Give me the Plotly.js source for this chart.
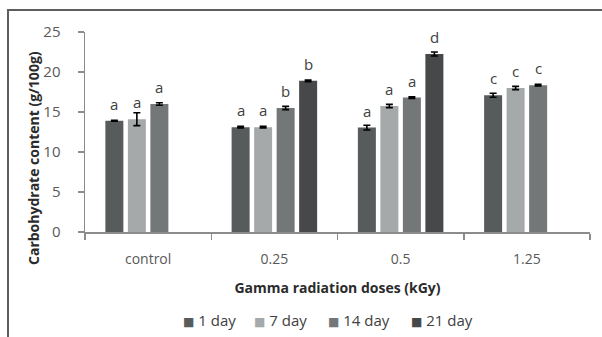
<!DOCTYPE html>
<html>
<head>
<meta charset="utf-8">
<script src="https://cdn.plot.ly/plotly-3.0.1.min.js"></script>
<style>
  html, body { margin: 0; padding: 0; background: #fff; overflow: hidden; }
  #wrap { position: relative; width: 602px; height: 337px; }
  #chart { position: absolute; left: 0; top: 0; width: 602px; height: 337px; }
  #frame { position: absolute; left: 7px; top: 9px; width: 700px; height: 400px;
           border-left: 2px solid #5e5e5e; border-top: 2px solid #5e5e5e; pointer-events: none; }
</style>
</head>
<body>
<div id="wrap">
  <div id="chart"></div>
  <div id="frame"></div>
</div>
<script>
// Gamma radiation doses (kGy) on the x axis
const doses = ['control', '0.25', '0.5', '1.25'];
// Storage periods
const seriesNames = ['1 day', '7 day', '14 day', '21 day'];
const seriesColors = ['#575b5c', '#a6a9a9', '#737778', '#46484a'];

// Carbohydrate content (g/100g); null = not measured
const day1  = [13.9, 13.1, 13.05, 17.1];
const day7  = [14.1, 13.1, 15.75, 18.0];
const day14 = [16.0, 15.5, 16.8, 18.35];
const day21 = [null, 18.9, 22.25, null];

// Standard errors
const err1  = [0.05, 0.1, 0.3, 0.25];
const err7  = [0.8, 0.1, 0.2, 0.2];
const err14 = [0.15, 0.2, 0.1, 0.1];
const err21 = [0, 0.1, 0.25, 0];

// Significance letters
const let1  = ['a', 'a', 'a', 'c'];
const let7  = ['a', 'a', 'a', 'c'];
const let14 = ['a', 'b', 'a', 'c'];
const let21 = ['', 'b', 'd', ''];

const values = [day1, day7, day14, day21];
const errors = [err1, err7, err14, err21];
const letters = [let1, let7, let14, let21];

const font = 'Open Sans, DejaVu Sans, sans-serif';
const bargap = 0.287;
const groupgap = 0.2;

const traces = values.map((v, s) => ({
  type: 'bar',
  name: seriesNames[s],
  x: doses,
  y: v,
  marker: { color: seriesColors[s], line: { width: 0 } },
  error_y: { type: 'data', array: errors[s], visible: true, color: '#000', thickness: 1.6, width: 3.5 },
  showlegend: false,
  hoverinfo: 'skip'
}));

// Letters above each bar, centred on the bar's slot within its group
const slot = (1 - bargap) / values.length;
const annotations = [];
values.forEach((v, s) => {
  v.forEach((val, i) => {
    if (val === null || !letters[s][i]) return;
    annotations.push({
      x: i + (s - (values.length - 1) / 2) * slot,
      y: val, xref: 'x', yref: 'y',
      text: letters[s][i], showarrow: false,
      yshift: 17, yanchor: 'middle',
      font: { family: font, size: 15, color: '#404040' }
    });
  });
});

// Vertical axis title, centred a little below the middle of the plot
annotations.push({
  xref: 'paper', yref: 'paper',
  x: -0.103, y: 0.37, xanchor: 'center', yanchor: 'middle',
  text: '<b>Carbohydrate content (g/100g)</b>', textangle: -90, showarrow: false,
  font: { family: font, size: 14, color: '#2b2b2b' }
});

// Compact legend row under the axis title: small square + label per series
const legendX = [0.19, 0.331, 0.477, 0.641];
seriesNames.forEach((name, s) => {
  annotations.push({
    xref: 'paper', yref: 'paper',
    x: legendX[s], y: -0.442, xanchor: 'left', yanchor: 'middle',
    text: '<span style="color:' + seriesColors[s] + ';font-family:DejaVu Sans;font-size:12px">■</span> ' + name,
    showarrow: false,
    font: { family: font, size: 15, color: '#404040' }
  });
});

const layout = {
  width: 602, height: 337,
  margin: { l: 85, r: 12, t: 32, b: 105, autoexpand: false },
  paper_bgcolor: '#fff', plot_bgcolor: '#fff',
  font: { family: font, size: 14, color: '#595959' },
  barmode: 'group', bargap: bargap, bargroupgap: groupgap,
  showlegend: false,
  xaxis: {
    type: 'category', automargin: false,
    showline: true, linecolor: '#8c8c8c', linewidth: 1.5,
    ticks: 'outside', tickson: 'boundaries', ticklen: 6, tickcolor: '#8c8c8c', tickwidth: 1.5,
    tickfont: { family: font, size: 14, color: '#595959' },
    ticklabelstandoff: 14,
    title: { text: '<b>Gamma radiation doses (kGy)</b>', standoff: 16,
             font: { family: font, size: 14, color: '#2b2b2b' } },
    showgrid: false, zeroline: false, fixedrange: true
  },
  yaxis: {
    range: [0, 25], dtick: 5, tick0: 0, automargin: false,
    showline: true, linecolor: '#8c8c8c', linewidth: 1.5,
    ticks: 'outside', ticklen: 6, tickcolor: '#8c8c8c', tickwidth: 1.5,
    tickfont: { family: font, size: 15, color: '#595959' },
    ticklabelstandoff: 14,
    showgrid: false, zeroline: false, fixedrange: true
  },
  annotations: annotations
};

Plotly.newPlot('chart', traces, layout, { staticPlot: true, displayModeBar: false });
</script>
</body>
</html>
